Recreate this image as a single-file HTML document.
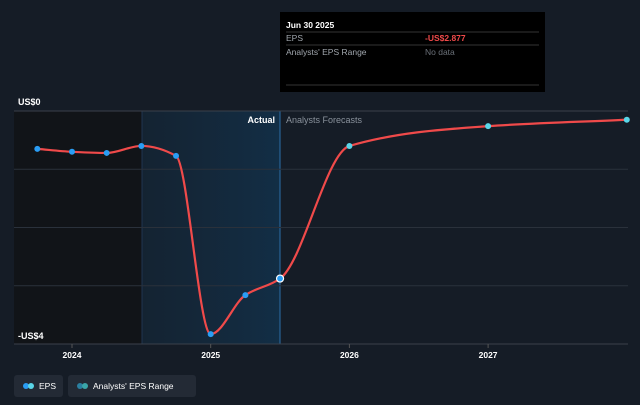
<!DOCTYPE html>
<html><head><meta charset="utf-8"><style>
body{margin:0;background:#151c26;font-family:"Liberation Sans",sans-serif}
svg{display:block}
</style></head><body>
<svg id="c" width="640" height="405" xmlns="http://www.w3.org/2000/svg">
<defs>
<linearGradient id="g" x1="0" x2="1" y1="0" y2="0">
<stop offset="0" stop-color="#14283a" stop-opacity="0.6"/>
<stop offset="1" stop-color="#123049" stop-opacity="0.9"/>
</linearGradient>
</defs>
<rect width="640" height="405" fill="#151c26"/>
<rect x="14" y="111" width="128" height="233" fill="#111418"/>
<rect x="142" y="111" width="138" height="233" fill="url(#g)"/>
<line x1="142" y1="111" x2="142" y2="344" stroke="#1f3550" stroke-width="1"/>
<line x1="280" y1="111" x2="280" y2="344" stroke="#2c6ea8" stroke-width="1"/>
<g id="grid"></g>
<text x="275" y="123" fill="#ffffff" font-size="9" font-weight="bold" text-anchor="end">Actual</text>
<text x="286" y="123" fill="#8a929c" font-size="9">Analysts Forecasts</text>
<text x="18" y="105" fill="#fff" font-size="9" font-weight="bold">US$0</text>
<text x="18" y="339" fill="#fff" font-size="9" font-weight="bold">-US$4</text>
<g id="xt"></g>
<path id="line" fill="none" stroke="#f04a4a" stroke-width="2.2"/>
<g id="pts"></g>
<rect x="280" y="12" width="265" height="80" fill="#000"/>
<text x="286" y="28" fill="#fff" font-size="8.5" font-weight="bold">Jun 30 2025</text>
<line x1="286" y1="32" x2="539" y2="32" stroke="#333"/>
<text x="286" y="41" fill="#a0a6ad" font-size="8.5">EPS</text>
<text x="425" y="41" fill="#f04a4a" font-size="8.5" font-weight="bold">-US$2.877</text>
<line x1="286" y1="45" x2="539" y2="45" stroke="#333"/>
<text x="286" y="55" fill="#a0a6ad" font-size="8.5">Analysts' EPS Range</text>
<text x="425" y="55" fill="#6a7078" font-size="8.5">No data</text>
<line x1="286" y1="85" x2="539" y2="85" stroke="#333"/>
<g>
<rect x="14" y="375" width="49" height="22" rx="3" fill="#232a35"/>
<circle cx="26" cy="386" r="3" fill="#2a9df4"/><circle cx="31" cy="386" r="3" fill="#5ad6e8"/>
<text x="39" y="389" fill="#fff" font-size="8.5">EPS</text>
</g>
<g>
<rect x="68" y="375" width="128" height="22" rx="3" fill="#232a35"/>
<circle cx="80" cy="386" r="3" fill="#2a7fa0"/><circle cx="85" cy="386" r="3" fill="#3aa5a8"/>
<text x="93" y="389" fill="#fff" font-size="8.5">Analysts' EPS Range</text>
</g>
</svg>
<script>
const dates=[2023.75,2024,2024.25,2024.5,2024.75,2025,2025.25,2025.5,2026,2027,2028];
const eps=[-0.65,-0.70,-0.72,-0.60,-0.77,-3.83,-3.16,-2.877,-0.60,-0.26,-0.15];
const yTicks=[0,-1,-2,-3,-4];
const xTicks=[2024,2025,2026,2027];
const actualCount=8;
const NS="http://www.w3.org/2000/svg";
const X=d=>72+(d-2024)*138.7;
const Y=v=>111-v*58.25;
const grid=document.getElementById('grid');
yTicks.forEach(t=>{const l=document.createElementNS(NS,'line');


l.setAttribute('x1',14);l.setAttribute('x2',628);l.setAttribute('y1',Y(t));l.setAttribute('y2',Y(t));
l.setAttribute('stroke',t===0||t===-4?'#3a414b':'#2a313b');l.setAttribute('stroke-width',1);grid.appendChild(l);});
const xt=document.getElementById('xt');
xTicks.forEach(t=>{const s=document.createElementNS(NS,'text');


s.setAttribute('x',X(t));s.setAttribute('y',358);s.setAttribute('fill','#fff');s.setAttribute('font-size','8.5');s.setAttribute('font-weight','bold');s.setAttribute('text-anchor','middle');s.textContent=t;xt.appendChild(s);
const l=document.createElementNS(NS,'line');


l.setAttribute('x1',X(t));l.setAttribute('x2',X(t));l.setAttribute('y1',344);l.setAttribute('y2',348);l.setAttribute('stroke','#555');xt.appendChild(l);});
const P=dates.map((d,i)=>[X(d),Y(eps[i])]);
// monotone cubic
const n=P.length,dx=[],m=[],t=[];
for(let i=0;i<n-1;i++){dx.push(P[i+1][0]-P[i][0]);m.push((P[i+1][1]-P[i][1])/dx[i]);}
t[0]=m[0];t[n-1]=m[n-2];
for(let i=1;i<n-1;i++){t[i]=m[i-1]*m[i]<=0?0:(3*(dx[i-1]+dx[i]))/((2*dx[i]+dx[i-1])/m[i-1]+(dx[i]+2*dx[i-1])/m[i]);}
let d=`M${P[0][0]},${P[0][1]}`;
for(let i=0;i<n-1;i++){const h=dx[i]/3;d+=`C${P[i][0]+h},${P[i][1]+t[i]*h} ${P[i+1][0]-h},${P[i+1][1]-t[i+1]*h} ${P[i+1][0]},${P[i+1][1]}`;}
document.getElementById('line').setAttribute('d',d);
const pts=document.getElementById('pts');
P.forEach((p,i)=>{const c=document.createElementNS(NS,'circle');


c.setAttribute('cx',p[0]);c.setAttribute('cy',p[1]);c.setAttribute('r',i===actualCount-1?3.5:3);
c.setAttribute('fill',i<actualCount?'#2a9df4':'#5ad6e8');
if(i===actualCount-1){c.setAttribute('stroke','#fff');c.setAttribute('stroke-width','1.2');}
pts.appendChild(c);});
</script>
</body></html>
